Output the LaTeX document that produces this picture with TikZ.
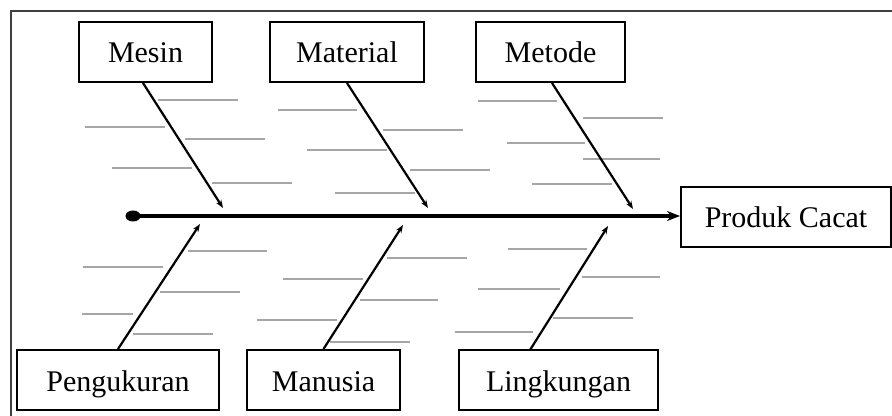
\documentclass[tikz,border=0pt]{standalone}
\usepackage{fontspec}
\setmainfont{Liberation Serif}
\usetikzlibrary{arrows.meta,shapes.geometric}
\begin{document}
\begin{tikzpicture}[x=0.5pt,y=-0.5pt,
  catbox/.style={draw=black,line width=1pt,fill=white,minimum height=30pt,inner sep=0pt,text height=14pt,text depth=3pt,font=\fontsize{15}{18}\selectfont},
  bone/.style={line width=1.1pt,-{Stealth[length=4pt,width=3pt]}},
  spine/.style={line width=1.6pt,-{Stealth[length=6.5pt,width=5pt]}},
  rib/.style={line width=0.7pt,draw=black!35},
  frameline/.style={line width=1.1pt,draw=black!75}]
\useasboundingbox (0,0) rectangle (892,416);
\draw[frameline] (11,416) -- (11,11) -- (892,11);
% ribs (faint horizontal lines)
\foreach \y/\a/\b in {100/158/238,127/85/165,139/185/265,168/112/192,183/212/292,
  110/278/357,130/383/463,150/307/387,170/410/490,193/335/415,
  101/478/557,118/583/663,143/507/585,159/583/660,184/532/612,
  251/188/267,267/83/163,292/160/240,314/82/133,334/133/213,
  258/387/467,279/283/363,300/360/438,320/257/337,342/330/410,
  249/508/587,277/582/660,289/478/560,318/553/633,332/455/533}
  {\draw[rib] (\a,\y) -- (\b,\y);}
% category boxes
\node[catbox,minimum width=66.5pt] (mesin) at (145.5,52) {Mesin};
\node[catbox,minimum width=77pt] (material) at (347,52) {Material};
\node[catbox,minimum width=74.5pt] (metode) at (550.5,52) {Metode};
\node[catbox,minimum width=101pt] (pengukuran) at (118,380) {Pengukuran};
\node[catbox,minimum width=76.5pt] (manusia) at (323.5,380) {Manusia};
\node[catbox,minimum width=99.5pt] (lingkungan) at (558.5,380) {Lingkungan};
\node[catbox,minimum width=105pt] (produk) at (786,217) {Produk Cacat};
% spine
\node[fill=black,ellipse,minimum width=7.5pt,minimum height=5.5pt,inner sep=0pt] (dot) at (133,216) {};
\draw[spine] (dot.center) -- (dot.center -| produk.west);
% arrow tip points
\coordinate (tmesin) at (223,208);
\coordinate (tmaterial) at (428,208);
\coordinate (tmetode) at (633,209);
\coordinate (tpeng) at (200,224);
\coordinate (tmanusia) at (403,225);
\coordinate (tling) at (608,226);
\coordinate (sling) at (530,350);
\draw[bone] ([xshift=-1.25pt]mesin.south) -- (tmesin);
\draw[bone] (material.south) -- (tmaterial);
\draw[bone] ([xshift=0.75pt]metode.south) -- (tmetode);
\draw[bone] (pengukuran.north) -- (tpeng);
\draw[bone] (manusia.north) -- (tmanusia);
\draw[bone] (sling) -- (tling);
\end{tikzpicture}
\end{document}
